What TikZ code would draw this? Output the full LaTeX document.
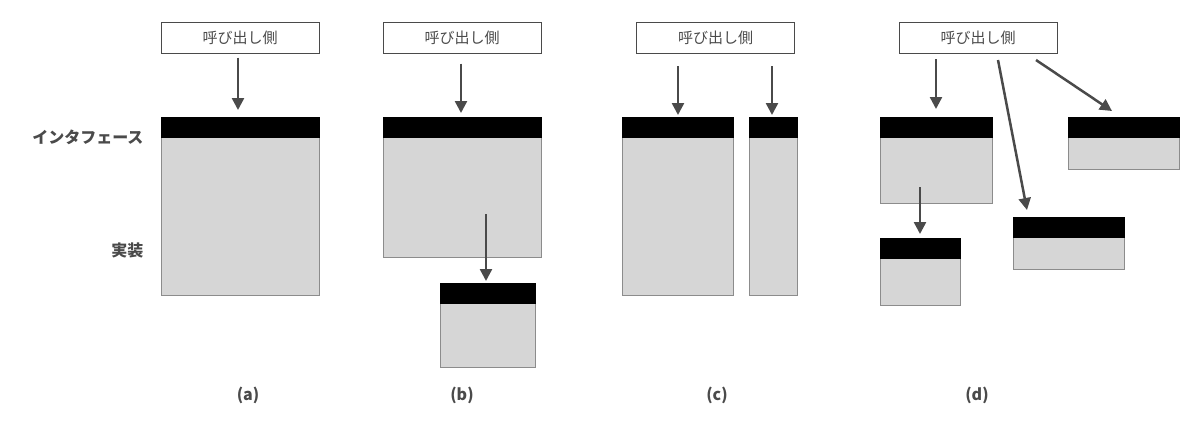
\documentclass[tikz,border=0pt]{standalone}
\usepackage{fontspec}
\setmainfont{Noto Sans CJK JP}
\usetikzlibrary{arrows.meta}
\definecolor{tx}{HTML}{4A4A4A}
\begin{document}
\begin{tikzpicture}[x=1pt,y=-1pt,
 caller/.style={draw=tx,line width=1pt,fill=white,minimum width=158pt,minimum height=31pt,font=\fontsize{15}{15}\selectfont,text=tx,inner sep=0pt},
 imp/.style={fill=black!16,draw=black!45,line width=0.8pt},
 itf/.style={fill=black},
 arr/.style={draw=tx,line width=2.5pt,-{Triangle[length=12pt,width=12pt]}},
 lab/.style={font=\bfseries\fontsize{16}{16}\selectfont,text=tx}]
\useasboundingbox (0,0) rectangle (1200,426);
% labels
\node[lab,anchor=east] (li) at (147,137) {インタフェース};
\node[lab,anchor=east] (lj) at (147,250) {実装};
% (a)
\node[caller] (ca) at (240,37.5) {呼び出し側};
\draw[imp] (161,137) rectangle (319,295);
\draw[itf] (161,117) rectangle (319,137);
\coordinate (ta) at (238,110);
\draw[arr] ([xshift=-2pt]ca.south) ++(0,4) -- (ta);
\node[lab] (la) at (248,395) {(a)};
% (b)
\node[caller] (cb) at (462,37.5) {呼び出し側};
\draw[imp] (383,137) rectangle (541,257);
\draw[itf] (383,117) rectangle (541,137);
\draw[imp] (440,303) rectangle (535,367);
\draw[itf] (440,283) rectangle (535,303);
\coordinate (tb1) at (461,113); \coordinate (sb2) at (486,214); \coordinate (tb2) at (486,281);
\draw[arr] ([xshift=-1pt,yshift=-10pt]cb.south) -- (tb1);
\draw[arr] (sb2) -- (tb2);
\node[lab] (lb) at (462,395) {(b)};
% (c)
\node[caller] (cc) at (715.5,37.5) {呼び出し側};
\draw[imp] (622,137) rectangle (733,295);
\draw[itf] (622,117) rectangle (733,137);
\draw[imp] (749,137) rectangle (797,295);
\draw[itf] (749,117) rectangle (797,137);
\coordinate (sc1) at (678,66); \coordinate (tc1) at (678,115);
\coordinate (sc2) at (772,66); \coordinate (tc2) at (772,115);
\draw[arr] (sc1) -- (tc1);
\draw[arr] (sc2) -- (tc2);
\node[lab] (lc) at (717,395) {(c)};
% (d)
\node[caller] (cd) at (978,37.5) {呼び出し側};
\draw[imp] (880,137) rectangle (992,203);
\draw[itf] (880,117) rectangle (992,137);
\draw[imp] (880,258) rectangle (960,305);
\draw[itf] (880,238) rectangle (960,258);
\draw[imp] (1013,237) rectangle (1124,269);
\draw[itf] (1013,217) rectangle (1124,237);
\draw[imp] (1068,137) rectangle (1179,169);
\draw[itf] (1068,117) rectangle (1179,137);
\coordinate (sd1) at (936,59); \coordinate (td1) at (936,109);
\coordinate (sd2) at (920,187); \coordinate (td2) at (920,234);
\coordinate (sd3) at (998,60); \coordinate (td3) at (1027,210);
\coordinate (sd4) at (1036,60); \coordinate (td4) at (1112,111);
\draw[arr] (sd1) -- (td1);
\draw[arr] (sd2) -- (td2);
\draw[arr] (sd3) -- (td3);
\draw[arr] (sd4) -- (td4);
\node[lab] (ld) at (977,395) {(d)};
\end{tikzpicture}
\end{document}
